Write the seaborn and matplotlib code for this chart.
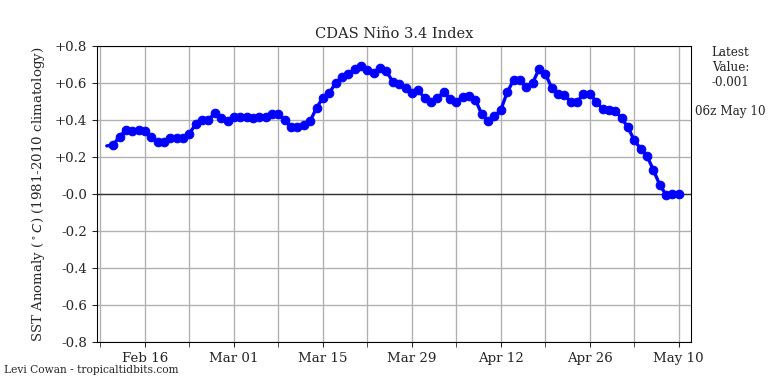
import pandas as pd
import numpy as np
import matplotlib
matplotlib.use("Agg")
import matplotlib.pyplot as plt
import matplotlib.dates as mdates
import seaborn as sns

# daily Nino 3.4 anomaly, Feb 10 - May 10 2024
start_date = "2024-02-10"
anomaly = [0.26,
           0.265, 0.31, 0.345, 0.34, 0.345, 0.34, 0.31, 0.28, 0.28, 0.30,
           0.305, 0.30, 0.325, 0.38, 0.40, 0.40, 0.44, 0.41, 0.395, 0.415,
           0.415, 0.415, 0.41, 0.415, 0.415, 0.43, 0.43, 0.40, 0.36, 0.36,
           0.375, 0.395, 0.465, 0.52, 0.545, 0.60, 0.63, 0.65, 0.675, 0.69,
           0.67, 0.655, 0.68, 0.665, 0.605, 0.595, 0.575, 0.545, 0.56, 0.52,
           0.50, 0.52, 0.55, 0.515, 0.50, 0.525, 0.53, 0.51, 0.43, 0.395,
           0.42, 0.455, 0.55, 0.615, 0.615, 0.58, 0.60, 0.675, 0.65, 0.575,
           0.54, 0.535, 0.50, 0.50, 0.54, 0.54, 0.50, 0.46, 0.455, 0.45,
           0.41, 0.36, 0.29, 0.245, 0.205, 0.13, 0.05, -0.005, 0.0, -0.001]
dates = pd.date_range(start_date, periods=len(anomaly), freq="D")

yticks = [-0.8, -0.6, -0.4, -0.2, 0.0, 0.2, 0.4, 0.6, 0.8]
ytick_labels = ["-0.8", "-0.6", "-0.4", "-0.2", "-0.0", "+0.2", "+0.4", "+0.6", "+0.8"]
major_days = pd.date_range("2024-02-16", "2024-05-10", freq="14D")
minor_days = pd.date_range("2024-02-09", "2024-05-10", freq="14D")

df = pd.DataFrame({"date": dates, "anom": anomaly})

sns.set_style("ticks")
plt.rcParams["font.family"] = "DejaVu Serif"

fig = plt.figure(figsize=(8, 4), dpi=96)
ax = fig.add_axes([0.1263, 0.1094, 0.7734, 0.7708])

ax.axhline(0, color="#333333", linewidth=1.0, zorder=1)
# first point has no marker in the original
sns.lineplot(data=df, x="date", y="anom", ax=ax, color="blue", linewidth=2.5,
             marker="o", markersize=6.5, markeredgecolor="blue",
             markevery=slice(1, None), zorder=3)

ax.set_ylim(-0.8, 0.8)
ax.set_yticks(yticks)
ax.set_yticklabels(ytick_labels)
ax.set_xlim(pd.Timestamp("2024-02-08 11:00"), pd.Timestamp("2024-05-11 22:00"))

ax.xaxis.set_major_locator(plt.FixedLocator(mdates.date2num(major_days)))
ax.xaxis.set_minor_locator(plt.FixedLocator(mdates.date2num(minor_days)))
ax.xaxis.set_major_formatter(mdates.DateFormatter("%b %d"))

ax.grid(True, which="both", color="#b0b0b0", linewidth=1.0)
ax.tick_params(which="both", direction="out", length=4, labelsize=10)
for s in ax.spines.values():
    s.set_visible(True)
    s.set_color("black")

ax.set_xlabel("")
ax.set_ylabel("SST Anomaly ($^\\circ C$) (1981-2010 climatology)", fontsize=10, labelpad=6)
ax.set_title("CDAS Niño 3.4 Index", fontsize=11)

fig.text(0.951, 0.88, "Latest\nValue:\n-0.001", ha="center", va="top", fontsize=9)
fig.text(0.951, 0.71, "06z May 10", ha="center", va="center", fontsize=9)
fig.text(0.005, 0.036, "Levi Cowan - tropicaltidbits.com", ha="left", va="center", fontsize=8)

fig.savefig("out.png", dpi=96)
